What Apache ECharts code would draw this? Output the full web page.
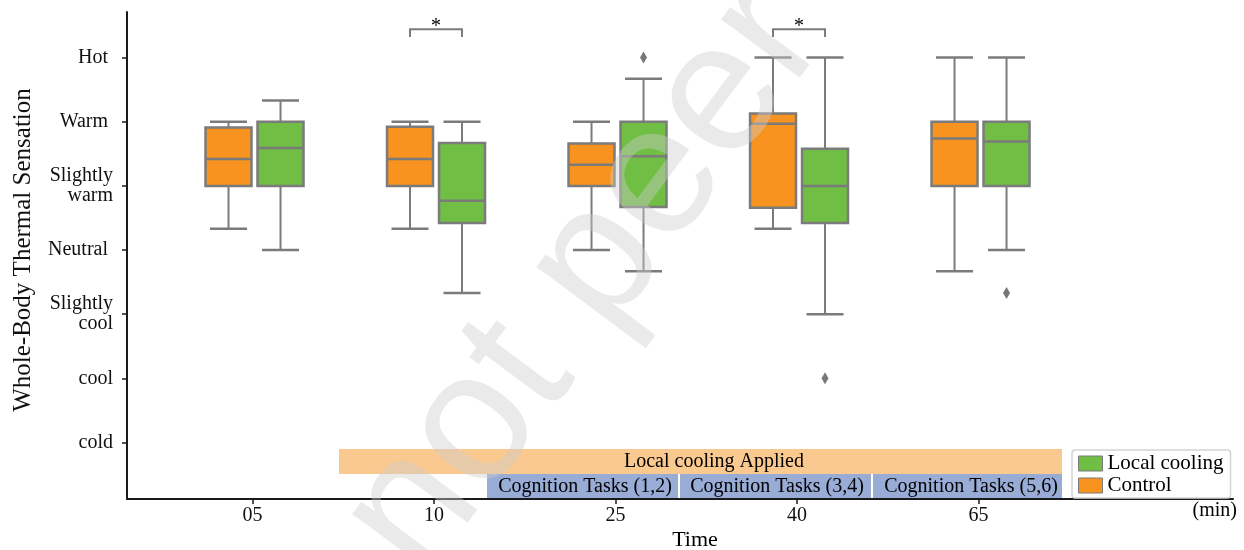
<!DOCTYPE html>
<html>
<head>
<meta charset="utf-8">
<script src="https://cdn.jsdelivr.net/npm/echarts@6/dist/echarts.min.js"></script>
<style>html,body{margin:0;padding:0;background:#fff}</style>
</head>
<body>
<div id="chart" style="width:1244px;height:550px"></div>
<script>
// time points (min) and the 7-point sensation scale, -3 = cold ... 3 = Hot
const times = ['05', '10', '25', '40', '65'];
const sensationLabels = ['cold', 'cool', 'Slightly\ncool', 'Neutral', 'Slightly\nwarm', 'Warm', 'Hot'];

// [min, Q1, median, Q3, max]
const controlBoxes = [
  [0.33, 1.0, 1.42, 1.91, 2.0],
  [0.33, 1.0, 1.42, 1.92, 2.0],
  [0.0, 1.0, 1.33, 1.66, 2.0],
  [0.33, 0.66, 1.97, 2.13, 3.0],
  [-0.33, 1.0, 1.74, 2.0, 3.0]
];
const coolingBoxes = [
  [0.0, 1.0, 1.59, 2.0, 2.33],
  [-0.67, 0.42, 0.77, 1.67, 2.0],
  [-0.33, 0.67, 1.46, 2.0, 2.67],
  [-1.0, 0.42, 1.0, 1.58, 3.0],
  [0.0, 1.0, 1.69, 2.0, 3.0]
];
// [time index, value]
const coolingOutliers = [[2, 3.0], [3, -2.0], [4, -0.67]];
// time indexes with a significant difference
const sigTimes = [1, 3];

const FONT = "'Liberation Serif', 'Times New Roman', serif";
const GRAY = '#7b7b7b';
const ORANGE = '#f7931e';
const GREEN = '#70be44';
const AXIS = '#1a1a1a';

function boxRenderer(shift, fill) {
  return function (params, api) {
    const x = api.coord([api.value(0), 0])[0] + shift;
    const y = d => api.coord([0, api.value(d)])[1];
    const lo = y(1), q1 = y(2), md = y(3), q3 = y(4), hi = y(5);
    const line = (x1, y1, x2, y2, w) => ({
      type: 'line', shape: {x1: x1, y1: y1, x2: x2, y2: y2},
      style: {stroke: GRAY, lineWidth: w || 2}
    });
    return {
      type: 'group',
      children: [
        line(x, hi, x, q3), line(x, q1, x, lo),
        line(x - 18.5, hi, x + 18.5, hi, 2.5), line(x - 18.5, lo, x + 18.5, lo, 2.5),
        {type: 'rect', shape: {x: x - 23, y: q3, width: 46, height: q1 - q3},
          style: {fill: fill, stroke: GRAY, lineWidth: 2.5}},
        line(x - 23, md, x + 23, md, 2.5)
      ]
    };
  };
}

const chart = echarts.init(document.getElementById('chart'));
chart.setOption({
  animation: false,
  grid: {left: 127, right: 11, top: 12, bottom: 51},
  xAxis: {
    type: 'value', min: -0.6915, max: 5.402,
    axisLine: {show: true, onZero: false, lineStyle: {color: AXIS, width: 2}},
    axisTick: {show: true, customValues: [0, 1, 2, 3, 4], length: 5, lineStyle: {color: AXIS, width: 1.5}},
    axisLabel: {
      customValues: [0, 1, 2, 3, 4], formatter: v => times[Math.round(v)],
      margin: 7, fontFamily: FONT, fontSize: 20, color: '#111'
    },
    splitLine: {show: false}
  },
  yAxis: {
    type: 'value', min: -3.88, max: 3.71,
    axisLine: {show: true, onZero: false, lineStyle: {color: AXIS, width: 2}},
    axisTick: {show: true, customValues: [-3, -2, -1, 0, 1, 2, 3], length: 5, lineStyle: {color: AXIS, width: 1.5}},
    axisLabel: {
      customValues: [-3, -2, -1, 0, 1, 2, 3],
      formatter: function (v) {
        const s = sensationLabels[Math.round(v) + 3];
        return v >= 0 && v !== 1 ? '{s|' + s + '}' : s;
      },
      margin: 14, fontFamily: FONT, fontSize: 20, lineHeight: 20, color: '#111',
      rich: {s: {padding: [0, 5, 0, 0], fontFamily: FONT, fontSize: 20, color: '#111'}}
    },
    splitLine: {show: false}
  },
  legend: {
    left: 1072, top: 450, orient: 'vertical',
    data: [{name: 'Local cooling', icon: 'rect'}, {name: 'Control', icon: 'rect'}],
    itemWidth: 24, itemHeight: 15, itemGap: 1,
    itemStyle: {borderColor: GRAY, borderWidth: 1},
    padding: [3, 7, 2, 6],
    borderColor: '#d4d4d4', borderWidth: 1.5, borderRadius: 3,
    textStyle: {fontFamily: FONT, fontSize: 21, lineHeight: 19, color: '#000'}
  },
  series: [
    {
      name: 'Control', type: 'custom', silent: true,
      itemStyle: {color: ORANGE},
      data: controlBoxes.map((b, i) => [i].concat(b)),
      renderItem: boxRenderer(-24, ORANGE)
    },
    {
      name: 'Local cooling', type: 'custom', silent: true,
      itemStyle: {color: GREEN},
      data: coolingBoxes.map((b, i) => [i].concat(b)),
      renderItem: boxRenderer(28, GREEN)
    },
    {
      name: 'outliers', type: 'scatter', silent: true,
      data: coolingOutliers, symbol: 'diamond', symbolSize: [7, 12], symbolOffset: [28, 0],
      itemStyle: {color: '#555'}
    },
    {
      name: 'significance', type: 'custom', silent: true,
      data: sigTimes.map(i => [i]),
      renderItem: function (params, api) {
        const xc = api.coord([api.value(0), 0])[0];
        const top = api.coord([0, 3.44])[1], leg = api.coord([0, 3.32])[1];
        const x1 = xc - 24, x2 = xc + 28;
        return {
          type: 'group',
          children: [
            {type: 'polyline', shape: {points: [[x1, leg], [x1, top], [x2, top], [x2, leg]]},
              style: {stroke: GRAY, lineWidth: 2, fill: null}},
            {type: 'text', style: {text: '*', x: (x1 + x2) / 2, y: top - 3, align: 'center',
              verticalAlign: 'middle', font: '20px ' + FONT, fill: '#000'}}
          ]
        };
      }
    }
  ],
  graphic: [
    // timeline annotation bars
    {type: 'rect', shape: {x: 339, y: 449, width: 723, height: 25}, style: {fill: '#f9c990'}},
    {type: 'text', style: {text: 'Local cooling Applied', x: 714, y: 462, align: 'center', verticalAlign: 'middle', font: '20px ' + FONT, fill: '#000'}},
    {type: 'rect', shape: {x: 487, y: 474, width: 191, height: 25}, style: {fill: '#98acd6'}},
    {type: 'rect', shape: {x: 680, y: 474, width: 191, height: 25}, style: {fill: '#98acd6'}},
    {type: 'rect', shape: {x: 873, y: 474, width: 189, height: 25}, style: {fill: '#98acd6'}},
    {type: 'text', style: {text: 'Cognition Tasks (1,2)', x: 585, y: 487, align: 'center', verticalAlign: 'middle', font: '20px ' + FONT, fill: '#000'}},
    {type: 'text', style: {text: 'Cognition Tasks (3,4)', x: 777, y: 487, align: 'center', verticalAlign: 'middle', font: '20px ' + FONT, fill: '#000'}},
    {type: 'text', style: {text: 'Cognition Tasks (5,6)', x: 971, y: 487, align: 'center', verticalAlign: 'middle', font: '20px ' + FONT, fill: '#000'}},
    // axis titles
    {type: 'text', style: {text: 'Time', x: 695, y: 540, align: 'center', verticalAlign: 'middle', font: '22px ' + FONT, fill: '#000'}},
    {type: 'text', style: {text: '(min)', x: 1237, y: 511, align: 'right', verticalAlign: 'middle', font: '20px ' + FONT, fill: '#000'}},
    {type: 'text', x: 23, y: 250, rotation: Math.PI / 2,
      style: {text: 'Whole-Body Thermal Sensation', x: 0, y: 0, align: 'center', verticalAlign: 'middle', font: '25px ' + FONT, fill: '#111'}},
    // preprint watermark
    {type: 'text', x: 585, y: 280, rotation: 0.93, z: 100,
      style: {text: 'not peer', x: 0, y: 0, align: 'center', verticalAlign: 'middle', font: '185px "Liberation Sans", sans-serif', fill: 'rgba(205,205,205,0.42)'}}
  ]
});
</script>
</body>
</html>
